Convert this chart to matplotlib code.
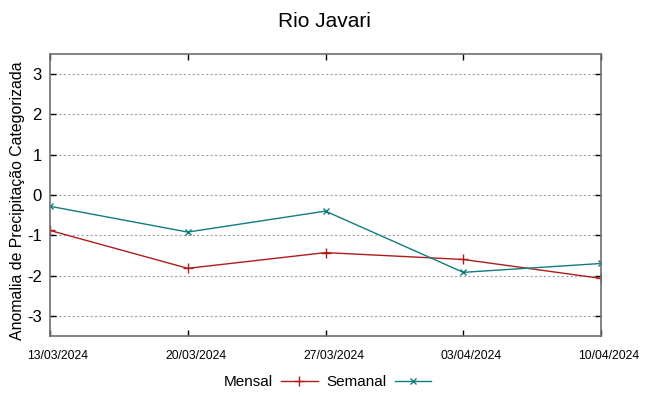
import datetime as dt

import matplotlib
matplotlib.use("Agg")
import matplotlib.pyplot as plt
import matplotlib.dates as mdates

plt.rcParams["font.family"] = ["Liberation Sans", "DejaVu Sans"]

# Chart data
dates = ["13/03/2024", "20/03/2024", "27/03/2024", "03/04/2024", "10/04/2024"]
mensal = [-0.88, -1.82, -1.43, -1.60, -2.07]
semanal = [-0.28, -0.92, -0.40, -1.92, -1.70]
y_ticks = [-3, -2, -1, 0, 1, 2, 3]

MENSAL_COLOR = "#b01c1c"
SEMANAL_COLOR = "#127c7c"
FRAME_COLOR = "#6e6e6e"

x = [dt.datetime.strptime(d, "%d/%m/%Y") for d in dates]

fig = plt.figure(figsize=(6.49, 3.96), dpi=100)
ax = fig.add_axes([50 / 649, 60 / 396, 551 / 649, 282 / 396])

ax.plot(x, mensal, color=MENSAL_COLOR, lw=1.0, marker="+", ms=7, mew=1.0, label="Mensal")
ax.plot(x, semanal, color=SEMANAL_COLOR, lw=1.0, marker="x", ms=5, mew=1.0, label="Semanal")

ax.set_xlim(x[0], x[-1])
ax.set_ylim(-3.5, 3.5)
ax.set_xticks(x)
ax.set_xticklabels([])
ax.xaxis.set_minor_locator(mdates.DayLocator(interval=100))
ax.set_yticks(y_ticks)
ax.set_yticklabels([str(v) for v in y_ticks], fontsize=12)

# gnuplot-like date labels: they sit a little right of their tick
for xi, lab in zip(x, dates):
    ax.annotate(lab, xy=(xi, 0), xycoords=("data", "axes fraction"),
                xytext=(8, -20), textcoords="offset pixels",
                ha="center", va="center", fontsize=8.8, annotation_clip=False)

ax.tick_params(axis="both", direction="in", length=4, width=1.0, color="black",
               top=True, right=True)
ax.tick_params(axis="y", pad=6)
ax.yaxis.grid(True, linestyle=(0, (2, 2)), color="#a0a0a0", lw=0.8)
for sp in ax.spines.values():
    sp.set_color(FRAME_COLOR)
    sp.set_linewidth(1.2)

# y label placed like gnuplot does, a bit off the axes centre
fig.text(18 / 649, 1 - 201 / 396, "Anomalia de Precipitação Categorizada",
         rotation=90, ha="center", va="center", fontsize=11.4)
fig.suptitle("Rio Javari", fontsize=15, y=0.97)

leg = fig.legend(loc="center", bbox_to_anchor=(0.505, 14 / 396), ncol=2, frameon=False,
                 fontsize=11, handlelength=2.4, handletextpad=0.5, columnspacing=0.6,
                 markerfirst=False)

fig.savefig("out.png", dpi=100)
